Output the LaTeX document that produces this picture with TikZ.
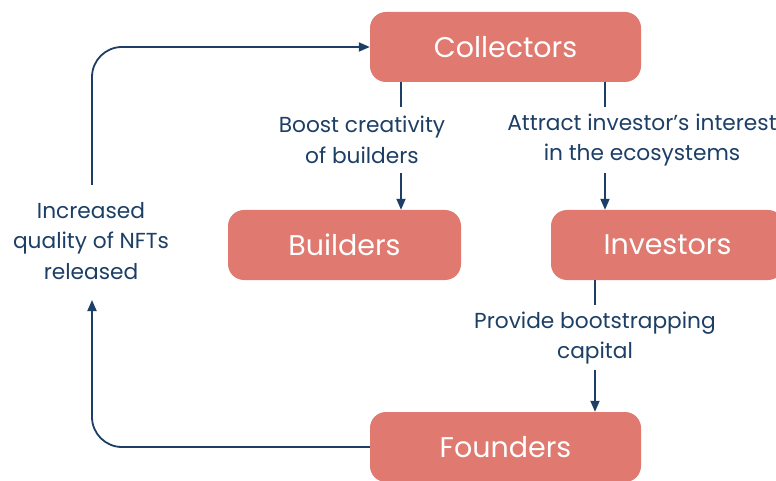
\documentclass[tikz,border=0pt]{standalone}
\usepackage{fontspec}
\setmainfont{Poppins}
\usetikzlibrary{arrows.meta}
\definecolor{boxc}{HTML}{E07970}
\definecolor{inkc}{HTML}{1D3F66}
\tikzset{
  box/.style={fill=boxc, draw=none, rounded corners=16pt, text=white, font=\fontsize{28.5}{30}\selectfont, inner sep=0pt},
  lab/.style={text=inkc, font=\fontsize{21.7}{30.5}\selectfont, align=center, inner sep=0pt},
  conn/.style={draw=inkc, line width=1.8pt},
  arr/.style={conn, -{Stealth[length=11pt, width=9pt, inset=0pt]}},
}
\begin{document}
\begin{tikzpicture}[x=1pt, y=-1pt]
\useasboundingbox (0,0) rectangle (776,481);
\clip (0,0) rectangle (776,481);
\fill[white] (0,0) rectangle (776,481);
\node[box, minimum width=271pt, minimum height=70pt] (col) at (505.5,47) {Collectors};
\node[box, minimum width=233pt, minimum height=70pt] (bld) at (344.5,245) {Builders};
\node[box, minimum width=233pt, minimum height=70pt] (inv) at (667.5,245) {Investors};
\node[box, minimum width=271pt, minimum height=70pt] (fou) at (505.5,447) {Founders};
\node[lab] (l1) at (362,140) {Boost creativity\\of builders};
\node[lab] (l2) at (642,140) {Attract investor’s interest\\in the ecosystems};
\node[lab] (l3) at (595,338) {Provide bootstrapping\\capital};
\node[lab] (l4) at (91,241) {Increased\\quality of NFTs\\released};
\coordinate (a1) at (401,107);
\coordinate (b1) at (401,173);
\coordinate (a2) at (605,107);
\coordinate (b2) at (605,173);
\coordinate (a3) at (595,305);
\coordinate (b3) at (595,370);
\coordinate (c4) at (92,300);
\coordinate (d4) at (92,185);
\draw[conn] (col.south -| a1) -- (a1);
\draw[arr] (b1) -- (bld.north -| b1);
\draw[conn] (col.south -| a2) -- (a2);
\draw[arr] (b2) -- (inv.north -| b2);
\draw[conn] (inv.south -| a3) -- (a3);
\draw[arr] (b3) -- (fou.north -| b3);
\draw[arr, rounded corners=30pt] (fou.west) -| (c4);
\draw[arr, rounded corners=30pt] (d4) |- (col.west);
\end{tikzpicture}
\end{document}
